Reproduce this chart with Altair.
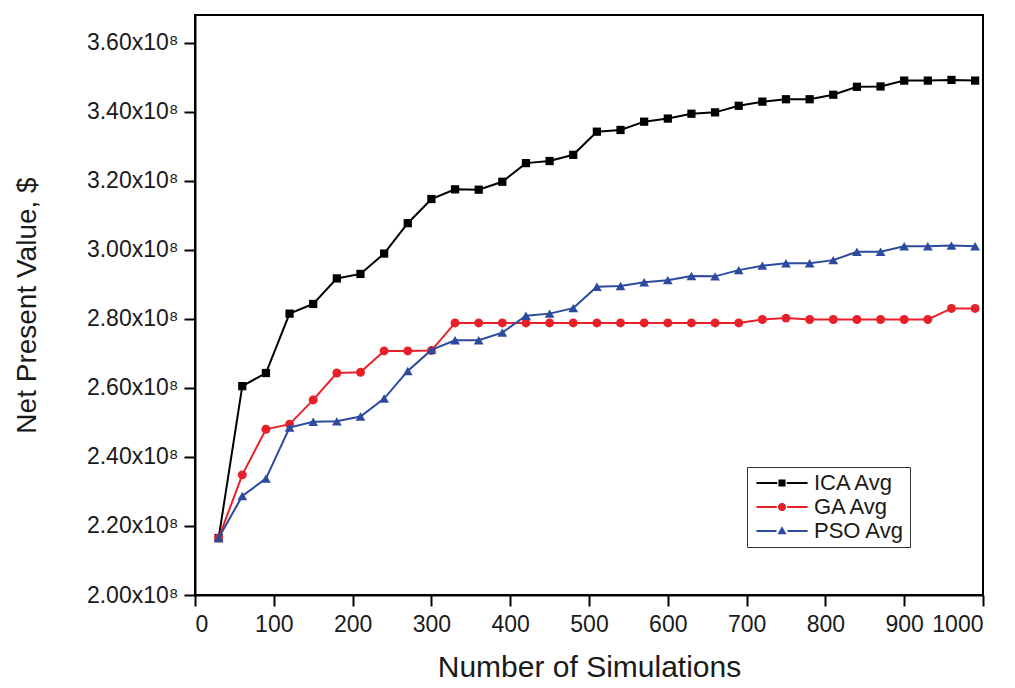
import math
import altair as alt
import pandas as pd

# Number of simulations (x positions of the markers)
sims = [30, 60, 90, 120, 150, 180, 210, 240, 270, 300, 330, 360, 390, 420, 450,
        480, 510, 540, 570, 600, 630, 660, 690, 720, 750, 780, 810, 840, 870,
        900, 930, 960, 990]

# Net present value in units of 1e8 $
ica = [2.165, 2.605, 2.643, 2.815, 2.843, 2.917, 2.930, 2.989, 3.077, 3.147,
       3.175, 3.174, 3.197, 3.251, 3.257, 3.275, 3.342, 3.347, 3.371, 3.380,
       3.394, 3.398, 3.417, 3.429, 3.436, 3.436, 3.449, 3.472, 3.473, 3.490,
       3.490, 3.492, 3.490]
ga = [2.165, 2.348, 2.480, 2.495, 2.565, 2.643, 2.645, 2.707, 2.707, 2.708,
      2.788, 2.788, 2.788, 2.788, 2.788, 2.788, 2.788, 2.788, 2.788, 2.788,
      2.788, 2.788, 2.788, 2.798, 2.802, 2.798, 2.798, 2.798, 2.798, 2.798,
      2.798, 2.830, 2.830]
pso = [2.165, 2.287, 2.337, 2.485, 2.502, 2.503, 2.517, 2.569, 2.649, 2.710,
       2.738, 2.738, 2.760, 2.809, 2.815, 2.831, 2.893, 2.895, 2.906, 2.912,
       2.924, 2.923, 2.941, 2.954, 2.961, 2.961, 2.970, 2.994, 2.994, 3.010,
       3.010, 3.012, 3.010]

series_names = ["ICA Avg", "GA Avg", "PSO Avg"]
series_colors = ["#000000", "#e8202a", "#2c4a9e"]
series_shapes = ["square", "circle", "triangle-up"]
series_sizes = [68, 80, 95]

x_ticks = [0, 50, 100, 150, 200, 250, 300, 350, 400, 450, 500, 550, 600, 650,
           700, 750, 800, 850, 900, 950, 1000]
y_ticks = [2.0, 2.1, 2.2, 2.3, 2.4, 2.5, 2.6, 2.7, 2.8, 2.9, 3.0, 3.1, 3.2,
           3.3, 3.4, 3.5, 3.6]

rows = []
for name, vals in zip(series_names, [ica, ga, pso]):
    for s, v in zip(sims, vals):
        rows.append({"sims": s, "npv": v, "series": name})
df = pd.DataFrame(rows)

FONT = "Liberation Sans"

x_enc = alt.X(
    "sims:Q",
    scale=alt.Scale(domain=[0, 1000], nice=False, zero=False),
    axis=alt.Axis(
        title="Number of Simulations",
        values=x_ticks,
        labelExpr="datum.value % 100 === 0 ? format(datum.value, 'd') : ''",
        tickSize={"condition": {"test": "datum.value % 100 === 0", "value": 11}, "value": 6},
        labelPadding=7,
        titlePadding=16,
        titleFontSize=30,
        grid=False,
    ),
)
y_enc = alt.Y(
    "npv:Q",
    scale=alt.Scale(domain=[2.0, 3.68], nice=False, zero=False),
    axis=alt.Axis(
        title="Net Present Value, $",
        values=y_ticks,
        labelExpr="round(datum.value * 10) % 2 === 0 ? format(datum.value, '.2f') + 'x10\u2078' : ''",
        tickSize={"condition": {"test": "round(datum.value * 10) % 2 === 0", "value": 11}, "value": 6},
        labelPadding=6,
        titlePadding=45,
        titleFontSize=28,
        grid=False,
    ),
)

layers = []
for name, color, shape, size in zip(series_names, series_colors, series_shapes, series_sizes):
    base = alt.Chart(df).transform_filter(alt.datum.series == name)
    layers.append(base.mark_line(color=color, strokeWidth=2).encode(x=x_enc, y=y_enc))
    layers.append(
        base.mark_point(filled=True, shape=shape, size=size, color=color, opacity=1).encode(x="sims:Q", y="npv:Q")
    )


# legend symbols: line segment - marker - line segment (unit coords, scaled by sqrt(symbolSize)/2)
DX = 5.43  # shift of the symbol to the right, in symbol units


def poly(points):
    return "M" + "L".join(f"{px + DX:.3f},{py:.3f}" for px, py in points) + "Z "


L, T = 7.3, 0.29


def with_lines(marker_pts, gap):
    left = [(-L, -T), (-gap, -T), (-gap, T), (-L, T)]
    right = [(gap, -T), (L, -T), (L, T), (gap, T)]
    return (poly(left) + poly(marker_pts) + poly(right)).strip()


sq = [(-1, -1), (1, -1), (1, 1), (-1, 1)]
R = 1.15
circ = [(R * math.cos(2 * math.pi * k / 24), R * math.sin(2 * math.pi * k / 24)) for k in range(24)]
tri = [(0, -1.35), (1.3, 0.95), (-1.3, 0.95)]
legend_paths = [with_lines(sq, 1.35), with_lines(circ, 1.5), with_lines(tri, 1.55)]

legend_def = alt.Legend(
    title=None,
    orient="none",
    legendX=552,
    legendY=452,
    padding=5,
    strokeColor="#333333",
    fillColor="white",
    labelFont=FONT,
    labelFontSize=22,
    labelColor="#1a1a1a",
    symbolSize=49,
    symbolStrokeWidth=0,
    symbolOpacity=1,
    symbolOffset=0,
    labelOffset=40,
    rowPadding=2,
)
legend_layer = (
    alt.Chart(df)
    .transform_filter("datum.sims < 0")
    .mark_point(filled=True, opacity=1)
    .encode(
        x="sims:Q",
        y="npv:Q",
        color=alt.Color("series:N", scale=alt.Scale(domain=series_names, range=series_colors), legend=legend_def),
        shape=alt.Shape("series:N", scale=alt.Scale(domain=series_names, range=legend_paths), legend=legend_def),
    )
)
layers.append(legend_layer)

chart = (
    alt.layer(*layers)
    .properties(
        width=788,
        height=580,
        autosize=alt.AutoSizeParams(type="none"),
        padding={"left": 195, "top": 15, "right": 32, "bottom": 93},
        background="white",
    )
    .configure_view(stroke="black", strokeWidth=2)
    .configure_axis(
        domainColor="black",
        domainWidth=2,
        tickColor="black",
        tickWidth=2,
        labelFont=FONT,
        labelFontSize=23,
        labelColor="#1a1a1a",
        titleFont=FONT,
        titleFontWeight="normal",
        titleColor="#1a1a1a",
    )
)

chart.save("out.html", embed_options={"renderer": "svg", "actions": False})
